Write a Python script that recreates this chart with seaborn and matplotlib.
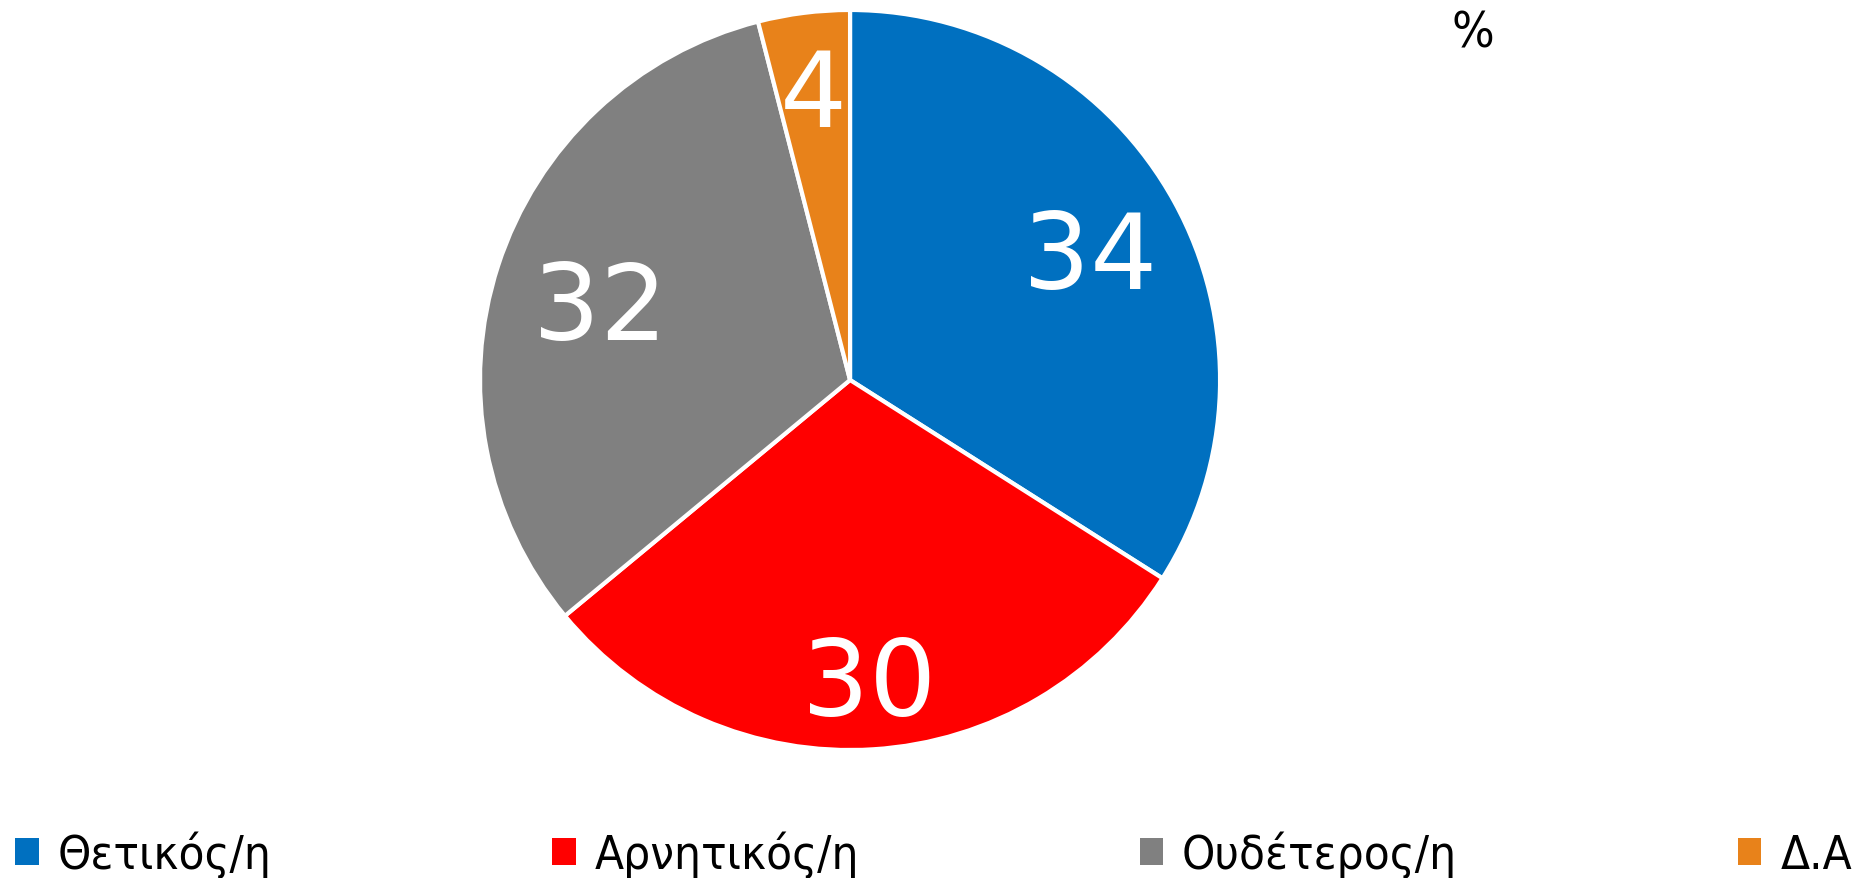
import matplotlib
matplotlib.use("Agg")
import numpy as np
import matplotlib.pyplot as plt
from matplotlib.patches import Patch
import seaborn as sns

# data
categories = ["Θετικός/η", "Αρνητικός/η", "Ουδέτερος/η", "Δ.Α"]
values = [34, 30, 32, 4]
colors = ["#0070C0", "#FF0000", "#808080", "#E8821A"]
label_dist = [0.74, 0.80, 0.71, 0.80]

sns.set_style("white")
plt.rcParams["font.family"] = ["DejaVu Sans"]
plt.rcParams["text.color"] = "black"

fig = plt.figure(figsize=(18.67, 8.79), dpi=100)
ax = fig.add_axes([0.2571, 0.1456, 0.3964, 0.8419])

wedges, texts, autotexts = ax.pie(
    values,
    colors=colors,
    startangle=90,
    counterclock=False,
    autopct=lambda p: f"{p:.0f}",
    pctdistance=0.75,
    wedgeprops=dict(edgecolor="white", linewidth=3),
    textprops=dict(color="white", fontsize=76),
)
# nudge each value label along its wedge's middle angle
for w, t, d in zip(wedges, autotexts, label_dist):
    mid = np.deg2rad((w.theta1 + w.theta2) / 2)
    t.set_position((d * np.cos(mid), d * np.sin(mid)))
    t.set_va("center_baseline")
ax.set_xlim(-1, 1)
ax.set_ylim(-1, 1)
ax.set_aspect("equal")
ax.axis("off")

fig.text(0.789, 0.962, "%", fontsize=36, fontstretch="condensed",
         ha="center", va="center", color="black")

handles = [Patch(facecolor=c, edgecolor="none") for c in colors]
fig.legend(handles, categories, loc="lower left", ncol=4, mode="expand",
           bbox_to_anchor=(0.008, 0.0, 0.984, 0.06), frameon=False,
           prop=dict(size=34, stretch="condensed"),
           labelcolor="black",
           handlelength=0.5, handleheight=0.5, handletextpad=0.4,
           borderaxespad=0, borderpad=0)

fig.savefig("out.png", dpi=100, facecolor="white")
